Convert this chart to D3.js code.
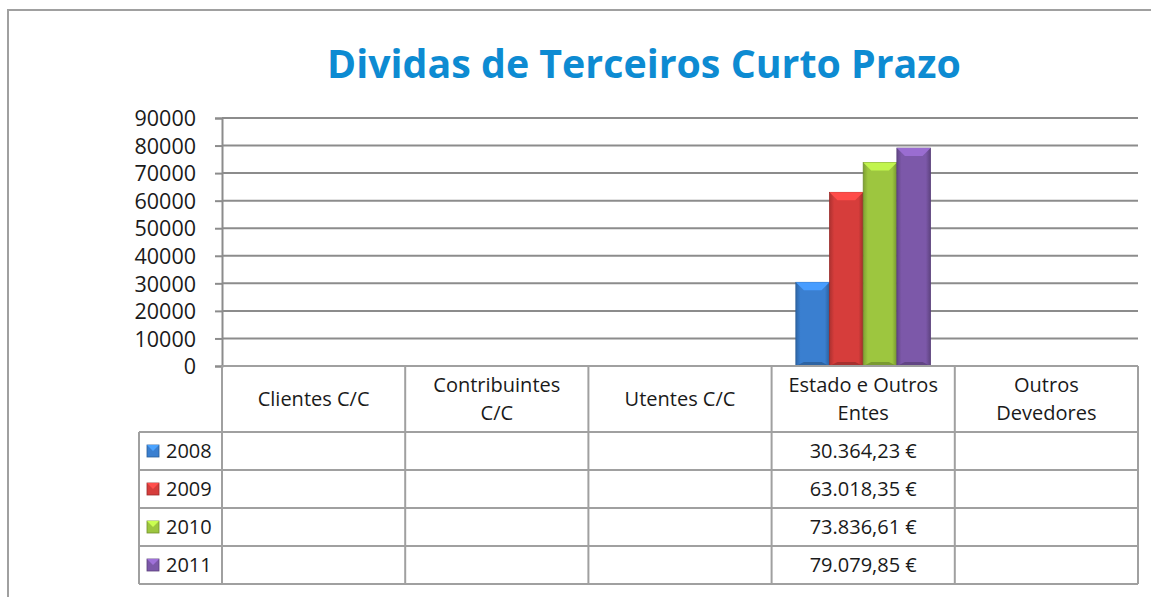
<!DOCTYPE html>
<html lang="pt">
<head>
    <meta charset="UTF-8">
    <title>Dividas de Terceiros Curto Prazo</title>
    <script src="https://d3js.org/d3.v7.min.js"></script>
</head>
<style>
    * { margin: 0; padding: 0; }
    body { background: #fff; }
    text { font-family: "Open Sans", "Noto Sans", sans-serif; fill: #1a1a1a; }
</style>
<body>
<script>
    var categories = ["Clientes C/C", "Contribuintes C/C", "Utentes C/C", "Estado e Outros Entes", "Outros Devedores"]
    var years = ["2008", "2009", "2010", "2011"]
    var v2008 = [null, null, null, 30364.23, null]
    var v2009 = [null, null, null, 63018.35, null]
    var v2010 = [null, null, null, 73836.61, null]
    var v2011 = [null, null, null, 79079.85, null]
    var yTicks = [0, 10000, 20000, 30000, 40000, 50000, 60000, 70000, 80000, 90000]
    var seriesValues = [v2008, v2009, v2010, v2011]
    var colors = ["#3a7fd0", "#d63d3b", "#9dc63f", "#7c58a9"]

    var width = 1151, height = 597
    var plotLeft = 222, plotRight = 1138, plotTop = 118, plotBottom = 366
    var rowTops = [432, 470, 508, 546, 584]
    var legendLeft = 139
    var fontSize = "20px"

    var svg = d3.select("body").append("svg")
        .attr("width", width).attr("height", height)

    var defs = svg.append("defs")
    colors.forEach(function(c, i) {
        var g = defs.append("linearGradient").attr("id", "bar" + i)
            .attr("x1", 0).attr("x2", 1).attr("y1", 0).attr("y2", 0)
        g.append("stop").attr("offset", "0%").attr("stop-color", d3.color(c).darker(0.6))
        g.append("stop").attr("offset", "14%").attr("stop-color", c)
        g.append("stop").attr("offset", "86%").attr("stop-color", c)
        g.append("stop").attr("offset", "100%").attr("stop-color", d3.color(c).darker(0.8))
    })

    // outer frame
    svg.append("path").attr("d", "M8,597 L8,10 L1151,10")
        .attr("fill", "none").attr("stroke", "#a0a0a0").attr("stroke-width", 2)

    // title
    var title = svg.append("text").attr("x", 644).attr("y", 78)
        .attr("text-anchor", "middle")
        .style("font-size", "36px").style("font-weight", "bold")
        .style("fill", "#0d8bd2")
        .text("Dividas de Terceiros Curto Prazo")
    var tw = title.node().getComputedTextLength()
    title.style("font-size", (36 * 634 / tw) + "px")

    var x = d3.scaleBand().domain(categories).range([plotLeft, plotRight])
    var xs = d3.scaleBand().domain(years).range([0, x.bandwidth()]).paddingOuter(0.72).paddingInner(0)
    var y = d3.scaleLinear().domain([0, 90000]).range([plotBottom, plotTop])

    // gridlines
    svg.append("g").selectAll("line").data(yTicks.slice(1)).enter().append("line")
        .attr("x1", plotLeft).attr("x2", plotRight)
        .attr("y1", function(d) { return y(d) }).attr("y2", function(d) { return y(d) })
        .attr("stroke", "#8c8c8c").attr("stroke-width", 2)

    // y axis
    var yAxis = svg.append("g").attr("transform", "translate(" + plotLeft + ",0)")
        .call(d3.axisLeft(y).tickValues(yTicks).tickSize(7).tickPadding(19).tickFormat(d3.format("d")))
    yAxis.select(".domain").attr("stroke", "#8c8c8c").attr("stroke-width", 2)
    yAxis.selectAll(".tick line").attr("stroke", "#8c8c8c").attr("stroke-width", 2)
    yAxis.selectAll(".tick text").style("font-size", "21.5px").style("font-family", "Open Sans, sans-serif")
        .attr("fill", "#1a1a1a").attr("dy", "0.36em")

    // bars
    var bars = svg.append("g")
    seriesValues.forEach(function(vals, si) {
        categories.forEach(function(cat, ci) {
            var v = vals[ci]
            if (v === null) return
            var bx = x(cat) + xs(years[si]), bw = xs.bandwidth()
            var by = y(v), bh = y(0) - y(v)
            bars.append("rect").attr("x", bx).attr("y", by).attr("width", bw).attr("height", bh)
                .attr("fill", "url(#bar" + si + ")")
                .attr("stroke", d3.color(colors[si]).darker(0.9)).attr("stroke-width", 0.8)
            var b = 8
            bars.append("path")
                .attr("d", "M" + bx + "," + by + " L" + (bx + bw) + "," + by + " L" + (bx + bw - b) + "," + (by + b) + " L" + (bx + b) + "," + (by + b) + "Z")
                .attr("fill", d3.color(colors[si]).brighter(0.6))
            bars.append("path")
                .attr("d", "M" + bx + "," + (by + bh) + " L" + (bx + bw) + "," + (by + bh) + " L" + (bx + bw - b) + "," + (by + bh - 4) + " L" + (bx + b) + "," + (by + bh - 4) + "Z")
                .attr("fill", d3.color(colors[si]).darker(0.7))
        })
    })

    // data table
    var grid = svg.append("g").attr("stroke", "#a0a0a0").attr("stroke-width", 2).attr("fill", "none")
    var colEdges = categories.map(function(c) { return x(c) }).concat([plotRight])
    colEdges.forEach(function(cx) {
        grid.append("line").attr("x1", cx).attr("x2", cx).attr("y1", plotBottom).attr("y2", rowTops[4])
    })
    grid.append("line").attr("x1", plotLeft).attr("x2", plotRight).attr("y1", plotBottom).attr("y2", plotBottom)
    grid.append("line").attr("x1", legendLeft).attr("x2", legendLeft).attr("y1", rowTops[0]).attr("y2", rowTops[4])
    rowTops.forEach(function(ry) {
        grid.append("line").attr("x1", legendLeft).attr("x2", plotRight).attr("y1", ry).attr("y2", ry)
    })

    // header labels with wrapping
    var hdr = svg.append("g")
    categories.forEach(function(cat) {
        var t = hdr.append("text").attr("text-anchor", "middle").style("font-size", fontSize)
        var words = cat.split(" "), lines = [], line = []
        words.forEach(function(w) {
            line.push(w)
            t.text(line.join(" "))
            if (t.node().getComputedTextLength() > 158 && line.length > 1) {
                line.pop()
                lines.push(line.join(" "))
                line = [w]
            }
        })
        lines.push(line.join(" "))
        t.text(null)
        var cy = (plotBottom + rowTops[0]) / 2
        var lh = 28
        lines.forEach(function(l, i) {
            t.append("tspan").attr("x", x(cat) + x.bandwidth() / 2)
                .attr("y", cy + (i - (lines.length - 1) / 2) * lh)
                .attr("dy", "0.35em").text(l)
        })
    })

    // legend cells + values
    var fmt = function(v) {
        var parts = v.toFixed(2).split(".")
        var intPart = parts[0].replace(/\B(?=(\d{3})+(?!\d))/g, ".")
        return intPart + "," + parts[1] + " €"
    }
    years.forEach(function(yr, si) {
        var cy = (rowTops[si] + rowTops[si + 1]) / 2
        var k = 12, kx = 147, ky = cy - 6
        svg.append("rect").attr("x", kx).attr("y", ky).attr("width", k).attr("height", k)
            .attr("fill", colors[si]).attr("stroke", d3.color(colors[si]).darker(0.9)).attr("stroke-width", 0.8)
        svg.append("path").attr("d", "M" + kx + "," + ky + " L" + (kx + k) + "," + ky + " L" + (kx + k / 2) + "," + (ky + k / 2) + "Z")
            .attr("fill", d3.color(colors[si]).brighter(0.7))
        svg.append("text").attr("x", 166).attr("y", cy).attr("dy", "0.35em")
            .style("font-size", fontSize).text(yr)
        seriesValues[si].forEach(function(v, ci) {
            if (v === null) return
            svg.append("text").attr("x", x(categories[ci]) + x.bandwidth() / 2).attr("y", cy)
                .attr("dy", "0.35em").attr("text-anchor", "middle")
                .style("font-size", fontSize).text(fmt(v))
        })
    })
</script>
</body>
</html>
